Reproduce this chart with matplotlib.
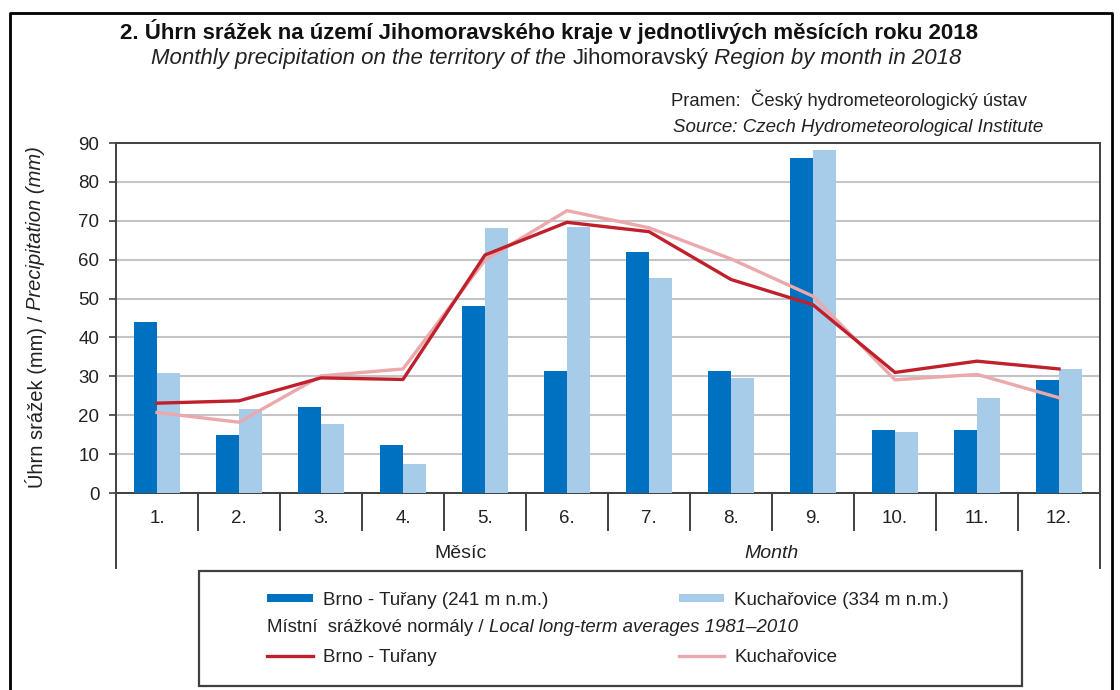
import numpy as np
import matplotlib
matplotlib.use("Agg")
import matplotlib.pyplot as plt
from matplotlib.lines import Line2D
from matplotlib.patches import Rectangle

plt.rcParams.update({
    "font.family": ["Liberation Sans", "DejaVu Sans"],
    "font.size": 13.5,
})

DARK = "#0070C0"; LIGHT = "#A7CCE9"
RED = "#C0202C"; PINK = "#EBA8AD"
GRID = "#C4C4C4"; EDGE = "#404040"; TXT = "#222222"

months = ["1.", "2.", "3.", "4.", "5.", "6.", "7.", "8.", "9.", "10.", "11.", "12."]
brno = [44.1, 14.8, 22.2, 12.3, 48.1, 31.4, 61.9, 31.4, 86.2, 16.2, 16.2, 29.0]
kuch = [30.8, 21.7, 17.7, 7.5, 68.2, 68.3, 55.4, 29.6, 88.2, 15.6, 24.5, 31.9]
brno_norm = [23.1, 23.7, 29.6, 29.2, 61.2, 69.6, 67.2, 54.9, 48.4, 31.0, 33.9, 31.9]
kuch_norm = [20.7, 18.2, 30.1, 31.9, 59.9, 72.6, 68.2, 60.2, 50.6, 29.1, 30.5, 24.5]

W, H = 1120, 690
fig = plt.figure(figsize=(W/100, H/100), dpi=100)

def px(x, y):
    return x / W, 1 - y / H

# outer frame
fig.add_artist(Line2D([10/W, 10/W, 1112/W, 1112/W], [0, 1-13/H, 1-13/H, 0],
                      transform=fig.transFigure, color="black", lw=2.0))

l, b = px(116, 493)
r, t = px(1100, 143)
ax = fig.add_axes([l, b, r - l, t - b])

x = np.arange(len(months))
bw = 0.28
ax.bar(x - bw/2, brno, bw, color=DARK, zorder=3)
ax.bar(x + bw/2, kuch, bw, color=LIGHT, zorder=3)
ax.plot(x, kuch_norm, color=PINK, lw=2.4, zorder=4)
ax.plot(x, brno_norm, color=RED, lw=2.4, zorder=5)

ax.set_xlim(-0.5, 11.5)
ax.set_ylim(0, 90)
ax.set_yticks(range(0, 91, 10))
ax.yaxis.grid(True, color=GRID, lw=1.5)
ax.set_axisbelow(True)
ax.set_xticks([])
for s in ax.spines.values():
    s.set_color(EDGE)
    s.set_linewidth(1.4)
ax.tick_params(axis="y", length=5, width=1.2, color=EDGE, pad=7,
               labelsize=13.5, labelcolor=TXT)

# category axis below the plot
trans = ax.get_xaxis_transform()
for k in range(len(months) + 1):
    xb = k - 0.5
    yb = -0.215 if k in (0, len(months)) else -0.106
    ax.plot([xb, xb], [0, yb], transform=trans, color=EDGE, lw=1.4,
            clip_on=False)
for xi, m in zip(x, months):
    ax.text(xi, -0.073, m, transform=trans, ha="center", va="center",
            fontsize=13.5, color=TXT)

fig.canvas.draw()
rend = fig.canvas.get_renderer()

def row(xs, y, parts, size, center=False, color="#111111"):
    objs = []
    for s, style, weight in parts:
        objs.append(fig.text(0, 1 - y/H, s, fontsize=size, style=style,
                             weight=weight, color=color, va="baseline",
                             ha="left"))
    widths = [o.get_window_extent(rend).width for o in objs]
    x0 = xs - sum(widths)/2 if center else xs
    for o, w in zip(objs, widths):
        o.set_x(x0 / W)
        x0 += w

row(548.5, 39, [("2. Úhrn srážek na území Jihomoravského kraje v jednotlivých "
                 "měsících roku 2018", "normal", "bold")], 16, center=True)
row(556.5, 64, [("Monthly precipitation on the territory of the ", "italic", "normal"),
                ("Jihomoravský", "normal", "normal"),
                (" Region by month in 2018", "italic", "normal")], 16, center=True,
    color="#222222")
row(671, 106, [("Pramen:  Český hydrometeorologický ústav", "normal", "normal")],
    13.3, color=TXT)
row(673, 132, [("Source: Czech Hydrometeorological Institute", "italic", "normal")],
    13.5, color=TXT)

# y label in two styles
p1 = fig.text(36/W, 1 - 488/H, "Úhrn srážek (mm) / ", rotation=90,
              ha="center", va="bottom", fontsize=14.5, color=TXT)
h1 = p1.get_window_extent(rend).height
fig.text(36/W, 1 - (488 - h1)/H, "Precipitation (mm)", rotation=90,
         ha="center", va="bottom", fontsize=14.5, style="italic", color=TXT)

fig.text(460/W, 1 - 554/H, "Měsíc", ha="center", va="center", fontsize=14,
         color=TXT)
fig.text(772/W, 1 - 554/H, "Month", ha="center", va="center", fontsize=14,
         style="italic", color=TXT)

# legend box
fig.add_artist(Rectangle(px(199, 686), 823/W, 115/H, transform=fig.transFigure,
                         fill=False, ec=EDGE, lw=1.6))
fig.add_artist(Rectangle(px(267, 602), 46/W, 8/H, transform=fig.transFigure,
                         fc=DARK, ec="none"))
fig.add_artist(Rectangle(px(679, 602), 45/W, 8/H, transform=fig.transFigure,
                         fc=LIGHT, ec="none"))
fig.add_artist(Line2D([267/W, 313/W], [1-656/H]*2, transform=fig.transFigure,
                      color=RED, lw=2.4))
fig.add_artist(Line2D([679/W, 724/W], [1-656/H]*2, transform=fig.transFigure,
                      color=PINK, lw=2.4))
row(323, 605, [("Brno - Tuřany (241 m n.m.)", "normal", "normal")], 13.5, color=TXT)
row(734, 605, [("Kuchařovice (334 m n.m.)", "normal", "normal")], 13.5, color=TXT)
row(267, 632, [("Místní  srážkové normály / ", "normal", "normal"),
               ("Local long-term averages 1981–2010", "italic", "normal")], 13.4,
    color=TXT)
row(323, 662, [("Brno - Tuřany", "normal", "normal")], 13.5, color=TXT)
row(734, 662, [("Kuchařovice", "normal", "normal")], 13.5, color=TXT)

fig.savefig("out.png", dpi=100)
